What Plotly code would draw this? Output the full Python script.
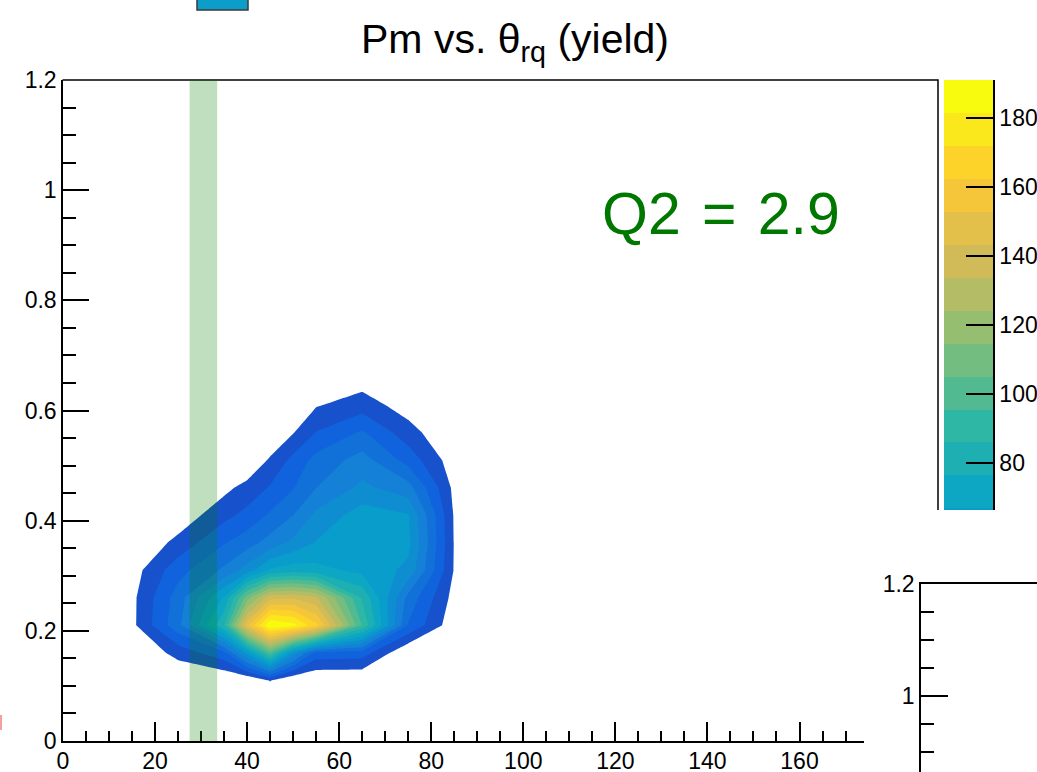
import numpy as np
import plotly.graph_objects as go

# ---------------------------------------------------------------------------
# Yield histogram: bin centres (theta_rq in degrees, Pm in GeV/c) and counts
# ---------------------------------------------------------------------------
THETA_RQ = [5, 15, 25, 35, 40, 45, 50, 55, 65, 75, 85, 95]
PM = [0.06, 0.11, 0.16, 0.21, 0.26, 0.31, 0.36, 0.41, 0.46, 0.51, 0.56, 0.61, 0.66, 0.71]

YIELD = [
    # 5    15    25    35     40     45     50     55     65    75    85   95
    [0.0, 0.0, 0.0, 0.0, 0.0, 0.0, 0.0, 0.0, 0.0, 0.0, 0.0, 0.0],             # 0.06
    [0.0, 0.0, 0.0, 0.0, 0.0, 10.0, 0.0, 0.0, 0.0, 0.0, 0.0, 0.0],            # 0.11
    [0.0, 0.0, 13.0, 26.0, 60.0, 100.0, 55.0, 25.0, 24.0, 0.0, 0.0, 0.0],     # 0.16
    [0.0, 7.0, 35.0, 85.0, 150.0, 191.0, 185.0, 165.0, 95.0, 28.0, 3.0, 0.0],  # 0.21
    [0.0, 7.0, 33.0, 68.0, 110.0, 140.0, 142.0, 135.0, 85.0, 35.0, 6.0, 0.0],  # 0.26
    [0.0, 5.0, 25.0, 40.0, 52.0, 68.0, 72.0, 70.0, 64.0, 55.0, 8.8, 0.0],      # 0.31
    [0.0, 0.0, 12.4, 28.0, 34.0, 42.0, 50.0, 58.0, 64.0, 60.0, 9.0, 0.0],      # 0.36
    [0.0, 0.0, 3.0, 16.1, 22.0, 30.0, 38.0, 50.0, 62.0, 58.0, 8.5, 0.0],       # 0.41
    [0.0, 0.0, 0.0, 6.7, 13.0, 20.0, 28.0, 38.0, 50.0, 42.0, 7.0, 0.0],        # 0.46
    [0.0, 0.0, 0.0, 0.0, 0.0, 11.0, 22.0, 32.0, 42.0, 25.0, 4.0, 0.0],         # 0.51
    [0.0, 0.0, 0.0, 0.0, 0.0, 0.0, 9.0, 19.5, 30.0, 13.6, 0.0, 0.0],           # 0.56
    [0.0, 0.0, 0.0, 0.0, 0.0, 0.0, 0.0, 8.7, 14.4, 4.8, 0.0, 0.0],             # 0.61
    [0.0, 0.0, 0.0, 0.0, 0.0, 0.0, 0.0, 0.0, 4.3, 0.0, 0.0, 0.0],              # 0.66
    [0.0, 0.0, 0.0, 0.0, 0.0, 0.0, 0.0, 0.0, 0.0, 0.0, 0.0, 0.0],              # 0.71
]

Z_MAX = 191.0          # top of the colour axis
N_CONTOURS = 20        # number of colour bands between 0 and Z_MAX
BAND_THETA = [27.5, 33.5]   # highlighted theta_rq slice
Q2_LABEL = "Q2\u200a = \u200a2.9"

PALETTE_TICKS = [80, 100, 120, 140, 160, 180]

# ---------------------------------------------------------------------------
# ROOT "kBird" palette, sampled the way a CONTZ plot picks its band colours
# ---------------------------------------------------------------------------
BIRD_STOPS = [0.0000, 0.1250, 0.2500, 0.3750, 0.5000, 0.6250, 0.7500, 0.8750, 1.0000]
BIRD_R = [0.2082, 0.0592, 0.0780, 0.0232, 0.1802, 0.5301, 0.8186, 0.9956, 0.9764]
BIRD_G = [0.1664, 0.3599, 0.5041, 0.6419, 0.7178, 0.7492, 0.7328, 0.7862, 0.9832]
BIRD_B = [0.5293, 0.8684, 0.8385, 0.7914, 0.6425, 0.4662, 0.3499, 0.1968, 0.0539]


def bird(pos):
    r = np.interp(pos, BIRD_STOPS, BIRD_R)
    g = np.interp(pos, BIRD_STOPS, BIRD_G)
    b = np.interp(pos, BIRD_STOPS, BIRD_B)
    return "rgb({:d},{:d},{:d})".format(int(round(r * 255)), int(round(g * 255)), int(round(b * 255)))


N_PAL = 255
band_colors = [bird(int((i + 0.99) * N_PAL / N_CONTOURS) / (N_PAL - 1)) for i in range(N_CONTOURS)]
step = Z_MAX / N_CONTOURS
levels = [k * step for k in range(N_CONTOURS + 1)]

# contour fill: below the first level stays white, band k gets band_colors[k]
n_lv = N_CONTOURS - 1
contour_scale = [[0.0, "white"]] + [[k / n_lv, band_colors[k]] for k in range(1, N_CONTOURS)]
palette_scale = [[k / n_lv, band_colors[k]] for k in range(N_CONTOURS)]

# ---------------------------------------------------------------------------
# Page geometry (pixels)
# ---------------------------------------------------------------------------
W, H = 1037, 772


def fx(px):
    return px / W


def fy(py):
    return 1 - py / H


FONT = "Liberation Sans, Arial, Helvetica, sans-serif"
AX_FONT = dict(family=FONT, size=23, color="black")
LW = 1.5

fig = go.Figure()

fig.add_trace(go.Contour(
    x=THETA_RQ, y=PM, z=YIELD,
    autocontour=False,
    contours=dict(start=levels[1], end=levels[N_CONTOURS - 1], size=step,
                  coloring="fill", showlines=False),
    colorscale=contour_scale,
    line=dict(width=0, smoothing=0),
    showscale=False,
    hoverinfo="skip",
    xaxis="x", yaxis="y",
))

# colour palette drawn as a column of bands on its own axes
fig.add_trace(go.Heatmap(
    x=[0, 1], y=levels,
    z=[[k] for k in range(N_CONTOURS)],
    zmin=0, zmax=n_lv,
    colorscale=palette_scale,
    showscale=False,
    hoverinfo="skip",
    xaxis="x3", yaxis="y3",
))

# empty frame of the neighbouring pad
fig.add_trace(go.Scatter(x=[], y=[], xaxis="x2", yaxis="y2", hoverinfo="skip"))

x_px_per_unit = (799.5 - 63) / 160.0
y3_px_per_unit = 3.45

common = dict(showgrid=False, zeroline=False, automargin=False)

fig.update_layout(
    template="none",
    width=W, height=H,
    margin=dict(l=0, r=0, t=0, b=0, pad=0),
    paper_bgcolor="white", plot_bgcolor="white",
    showlegend=False,
    font=dict(family=FONT, color="black"),
    title=dict(text="Pm vs. θ<sub>rq</sub> (yield)",
               font=dict(family=FONT, size=41, color="black"),
               x=fx(515), xanchor="center", y=fy(39), yanchor="middle",
               xref="paper", yref="paper", automargin=False),
    xaxis=dict(
        domain=[fx(63), fx(864)], range=[0, (864 - 63) / x_px_per_unit],
        anchor="y", showline=True, linecolor="black", linewidth=LW,
        ticks="inside", ticklen=19, tickwidth=LW, tickcolor="black",
        tick0=0, dtick=20, tickfont=AX_FONT, ticklabelstandoff=-1,
        minor=dict(ticks="inside", dtick=5, ticklen=10, tickwidth=LW, tickcolor="black", showgrid=False),
        **common,
    ),
    yaxis=dict(
        domain=[fy(741), fy(80)], range=[0, 1.2],
        anchor="x", showline=True, linecolor="black", linewidth=LW,
        ticks="inside", ticklen=26, tickwidth=LW, tickcolor="black",
        tick0=0, dtick=0.2, tickfont=AX_FONT,
        minor=dict(ticks="inside", dtick=0.05, ticklen=13, tickwidth=LW, tickcolor="black", showgrid=False),
        **common,
    ),
    xaxis2=dict(
        domain=[fx(921), 1.0], range=[0, 1], anchor="y2", side="top",
        showline=True, linecolor="black", linewidth=LW,
        ticks="", showticklabels=False,
        **common,
    ),
    yaxis2=dict(
        domain=[0, fy(584)], range=[1.2 - 188 * 0.2 / 112, 1.2], anchor="x2",
        showline=True, linecolor="black", linewidth=LW,
        ticks="inside", ticklen=27, tickwidth=LW, tickcolor="black",
        tick0=0, dtick=0.2, tickfont=AX_FONT,
        minor=dict(ticks="inside", dtick=0.05, ticklen=13, tickwidth=LW, tickcolor="black", showgrid=False),
        **common,
    ),
    xaxis3=dict(domain=[fx(944), fx(993)], range=[0, 1], anchor="y3", visible=False, **common),
    yaxis3=dict(
        domain=[fy(510), fy(80)], range=[Z_MAX - 430 / y3_px_per_unit, Z_MAX],
        anchor="x3", side="right",
        showline=True, linecolor="black", linewidth=LW,
        ticks="inside", ticklen=27, tickwidth=LW, tickcolor="black",
        tickvals=PALETTE_TICKS, tickfont=AX_FONT,
        **common,
    ),
)

shapes = [
    # frame: top and right edges
    dict(type="path", xref="paper", yref="paper",
         path="M {:.5f},{:.5f} L {:.5f},{:.5f} L {:.5f},{:.5f}".format(
             fx(62.5), fy(80), fx(938), fy(80), fx(938), fy(510)),
         line=dict(color="black", width=LW), layer="above"),
    # highlighted theta_rq slice
    dict(type="rect", xref="x", yref="y",
         x0=BAND_THETA[0], x1=BAND_THETA[1], y0=0, y1=1.217,
         fillcolor="rgba(0,128,0,0.25)", line=dict(width=0), layer="above"),
    # palette of the pad above
    dict(type="rect", xref="paper", yref="paper",
         x0=fx(197), x1=fx(248), y0=fy(10), y1=fy(-3),
         fillcolor="#0a9ec8", line=dict(color="#3a3a3a", width=LW), layer="above"),
    # marker of the pad on the left
    dict(type="rect", xref="paper", yref="paper",
         x0=fx(-1), x1=fx(2), y0=fy(730), y1=fy(715),
         fillcolor="#f4a0a0", line=dict(width=0), layer="above"),
]
fig.update_layout(shapes=shapes)

fig.add_annotation(
    text=Q2_LABEL, xref="paper", yref="paper",
    x=fx(720.5), y=fy(214), xanchor="center", yanchor="middle",
    showarrow=False, font=dict(family=FONT, size=59, color="#007800"),
)

fig.write_html("out.html")
